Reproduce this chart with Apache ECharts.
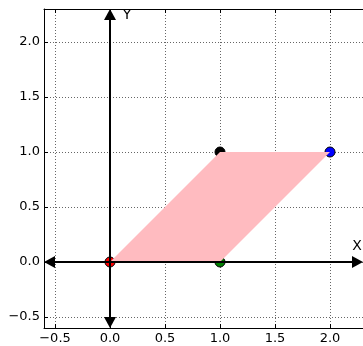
<!DOCTYPE html>
<html><head><meta charset="utf-8">
<script src="https://cdn.jsdelivr.net/npm/echarts@6/dist/echarts.min.js"></script>
<style>html,body{margin:0;padding:0;background:#fff}#c{width:363px;height:346px}</style>
</head><body><div id="c"></div>
<script>
const xRange = [-0.6, 2.3];
const yRange = [-0.6, 2.3];
const xTicks = [-0.5, 0.0, 0.5, 1.0, 1.5, 2.0];
const yTicks = [-0.5, 0.0, 0.5, 1.0, 1.5, 2.0];
const polyX = [0, 1, 2, 1];
const polyY = [0, 0, 1, 1];
const pointX = [0, 1, 2, 1];
const pointY = [0, 0, 1, 1];
const pointColors = ['#ff0000', '#008000', '#0000ff', '#000000'];
const axisNames = ['X', 'Y'];

const fmt = v => (v < 0 ? '\u2212' : '') + Math.abs(v).toFixed(1);
const font = 'DejaVu Sans';
const chart = echarts.init(document.getElementById('c'), null, {renderer: 'canvas'});

function mainAxis(range, ticks, pos) {
  return {
    type: 'value', min: range[0], max: range[1], position: pos,
    axisLine: {show: true, onZero: false, lineStyle: {color: '#000', width: 1}},
    axisTick: {show: true, inside: true, length: 4, customValues: ticks, lineStyle: {color: '#000'}},
    axisLabel: {show: true, customValues: ticks, formatter: fmt, fontFamily: font, fontSize: 13, color: '#000', margin: pos === 'left' ? 4 : 4},
    splitLine: {show: true, lineStyle: {color: '#666', width: 1, type: [1, 2]}}
  };
}
function sideAxis(range, ticks, pos) {
  return {
    type: 'value', min: range[0], max: range[1], position: pos,
    axisLine: {show: true, onZero: false, lineStyle: {color: '#000', width: 1}},
    axisTick: {show: true, inside: true, length: 4, customValues: ticks, lineStyle: {color: '#000'}},
    axisLabel: {show: false},
    splitLine: {show: false}
  };
}

chart.setOption({
  animation: false,
  grid: {left: 44, top: 9, width: 319, height: 319, containLabel: false},
  xAxis: [mainAxis(xRange, xTicks, 'bottom'), sideAxis(xRange, xTicks, 'top')],
  yAxis: [mainAxis(yRange, yTicks, 'left')],
  series: [
    {
      type: 'scatter', z: 2,
      data: pointX.map((x, i) => ({value: [x, pointY[i]], itemStyle: {color: pointColors[i]}})),
      symbolSize: 10,
      itemStyle: {borderColor: '#000', borderWidth: 1, opacity: 1}
    },
    {
      type: 'custom', z: 3,
      data: polyX.map((x, i) => [x, polyY[i]]),
      renderItem: function (params, api) {
        if (params.dataIndex !== 0) return null;
        const pts = polyX.map((x, i) => api.coord([x, polyY[i]]));
        return {type: 'polygon', shape: {points: pts}, style: {fill: '#ffbbc0', stroke: null}};
      }
    },
    {
      type: 'custom', z: 4,
      data: [[0, 0]],
      renderItem: function (params, api) {
        const L = api.coord([xRange[0], 0]);
        const R = api.coord([xRange[1], 0]);
        const B = api.coord([0, yRange[0]]);
        const T = api.coord([0, yRange[1]]);
        const h = 11, w = 6;
        const black = {fill: '#000'};
        return {type: 'group', children: [
          {type: 'line', shape: {x1: L[0] + h / 2, y1: L[1], x2: R[0] - h / 2, y2: R[1]}, style: {stroke: '#000', lineWidth: 2}},
          {type: 'line', shape: {x1: B[0], y1: B[1] - h / 2, x2: T[0], y2: T[1] + h / 2}, style: {stroke: '#000', lineWidth: 2}},
          {type: 'polygon', shape: {points: [[L[0], L[1]], [L[0] + h, L[1] - w], [L[0] + h, L[1] + w]]}, style: black},
          {type: 'polygon', shape: {points: [[R[0], R[1]], [R[0] - h, R[1] - w], [R[0] - h, R[1] + w]]}, style: black},
          {type: 'polygon', shape: {points: [[T[0], T[1]], [T[0] - w, T[1] + h], [T[0] + w, T[1] + h]]}, style: black},
          {type: 'polygon', shape: {points: [[B[0], B[1]], [B[0] - w, B[1] - h], [B[0] + w, B[1] - h]]}, style: black},
          {type: 'text', x: R[0] - 6, y: R[1] - 16, style: {text: axisNames[0], font: '14px "DejaVu Sans"', fill: '#000', align: 'center', verticalAlign: 'middle'}},
          {type: 'text', x: T[0] + 17, y: T[1] + 6, style: {text: axisNames[1], font: '14px "DejaVu Sans"', fill: '#000', align: 'center', verticalAlign: 'middle'}}
        ]};
      }
    }
  ]
});
</script></body></html>
